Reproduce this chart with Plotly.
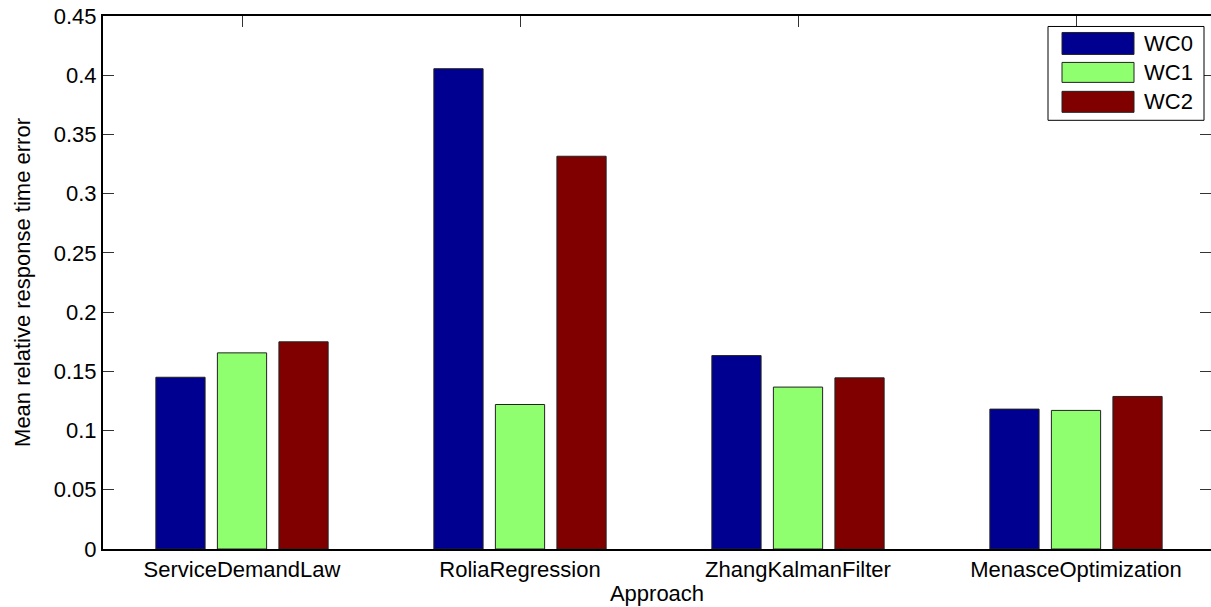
import plotly.graph_objects as go

categories = ["ServiceDemandLaw", "RoliaRegression", "ZhangKalmanFilter", "MenasceOptimization"]
series_names = ["WC0", "WC1", "WC2"]
wc0 = [0.145, 0.4055, 0.1633, 0.1181]
wc1 = [0.1656, 0.122, 0.1367, 0.117]
wc2 = [0.1749, 0.3316, 0.1445, 0.1288]
colors = ["#000090", "#8FFF70", "#800000"]
ytick_vals = [0, 0.05, 0.1, 0.15, 0.2, 0.25, 0.3, 0.35, 0.4, 0.45]
ytick_text = ["0", "0.05", "0.1", "0.15", "0.2", "0.25", "0.3", "0.35", "0.4", "0.45"]

W, H = 1211, 607
L, R, T, B = 103, 0, 15.5, 57.5
pw, ph = W - L - R, H - T - B
FONT = "Liberation Sans, Arial, sans-serif"

xpos = [1, 2, 3, 4]
fig = go.Figure()
for name, vals, col in zip(series_names, [wc0, wc1, wc2], colors):
    fig.add_trace(go.Bar(x=xpos, y=vals, name=name, marker=dict(color=col, line=dict(color="#222", width=1)),
                         showlegend=False))
# invisible trace for right-side y ticks
fig.add_trace(go.Scatter(x=[1], y=[0], yaxis="y2", mode="markers", marker=dict(opacity=0), showlegend=False,
                         hoverinfo="skip"))

xmax = 0.5 + pw / 278.0
fig.update_layout(
    width=W, height=H,
    margin=dict(l=L, r=R, t=T, b=B, pad=0, autoexpand=False),
    paper_bgcolor="white", plot_bgcolor="white",
    barmode="group", bargap=0.336, bargroupgap=0.2,
    font=dict(family=FONT, size=22, color="black"),
    xaxis=dict(range=[0.5, xmax], tickvals=xpos, ticktext=categories, showgrid=False, zeroline=False,
               showline=True, linecolor="black", linewidth=2, mirror="ticks", ticks="inside", ticklen=11,
               tickcolor="#333", tickwidth=1, layer="below traces", automargin=False,
               tickfont=dict(size=22), title=dict(text="Approach", standoff=4, font=dict(size=22))),
    yaxis=dict(range=[0, 0.45], tickvals=ytick_vals, ticktext=ytick_text, showgrid=False, zeroline=False,
               showline=True, linecolor="black", linewidth=2, ticks="inside", ticklen=11, tickcolor="#333",
               tickwidth=1, tickfont=dict(size=22), ticklabeloverflow="allow", automargin=False,
               title=dict(text="Mean relative response time error", standoff=17, font=dict(size=22))),
    yaxis2=dict(range=[0, 0.45], overlaying="y", side="right", tickvals=ytick_vals, showticklabels=False,
                showgrid=False, zeroline=False, showline=False, ticks="inside", ticklen=11, tickcolor="#333",
                automargin=False),
)

def px(x):
    return (x - L) / pw

def py(y):
    return (H - B - y) / ph

shapes = [dict(type="rect", xref="paper", yref="paper", x0=px(1048), x1=px(1204), y0=py(120), y1=py(26),
               line=dict(color="black", width=1), fillcolor="white", layer="above")]
sw_top = [32, 62, 91]
sw_bot = [54, 82, 112]
anns = []
for i, (name, col) in enumerate(zip(series_names, colors)):
    shapes.append(dict(type="rect", xref="paper", yref="paper", x0=px(1062), x1=px(1134),
                       y0=py(sw_bot[i]), y1=py(sw_top[i]), line=dict(color="#222", width=1), fillcolor=col,
                       layer="above"))
    anns.append(dict(xref="paper", yref="paper", x=px(1142), y=py((sw_top[i] + sw_bot[i]) / 2), text=name,
                     showarrow=False, xanchor="left", yanchor="middle", font=dict(size=22, family=FONT)))
fig.update_layout(shapes=shapes, annotations=anns)

fig.write_html("out.html", config={"displayModeBar": False},
               post_script="document.body.style.margin='0';document.body.style.overflow='hidden';")
